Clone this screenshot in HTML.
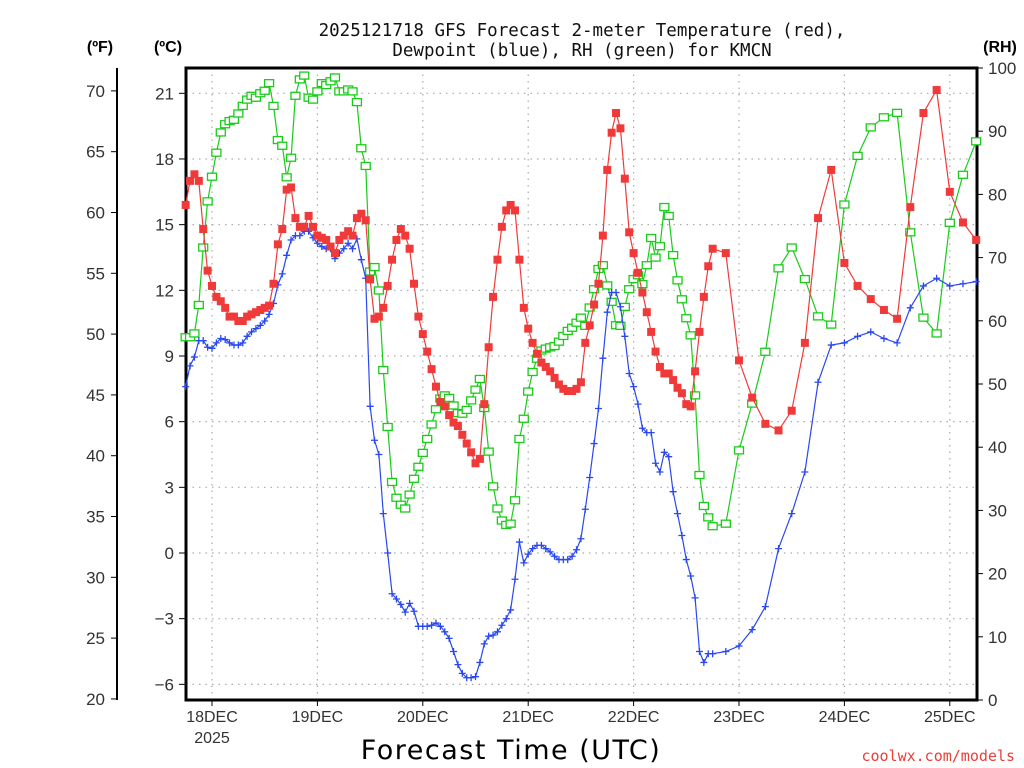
<!DOCTYPE html>
<html><head><meta charset="utf-8"><style>
html,body{margin:0;padding:0;background:#fff;}
svg{display:block;font-family:"Liberation Sans",sans-serif;}
</style></head><body>
<svg id="chart" width="1024" height="768" viewBox="0 0 1024 768" xmlns="http://www.w3.org/2000/svg">
<rect x="0" y="0" width="1024" height="768" fill="#fff"/>
<g id="grid"></g>
<g id="axes"></g>
<g id="series"></g>
<text x="582" y="36" text-anchor="middle" font-family="'DejaVu Sans Mono','Liberation Mono',monospace" font-size="17.5" fill="#111">2025121718 GFS Forecast 2-meter Temperature (red),</text>
<text x="582" y="56" text-anchor="middle" font-family="'DejaVu Sans Mono','Liberation Mono',monospace" font-size="17.5" fill="#111">Dewpoint (blue), RH (green) for KMCN</text>
<text x="100" y="52" text-anchor="middle" font-weight="bold" font-size="16" fill="#000">(ºF)</text>
<text x="168" y="52" text-anchor="middle" font-weight="bold" font-size="16" fill="#000">(ºC)</text>
<text x="1000" y="52" text-anchor="middle" font-weight="bold" font-size="16" fill="#000">(RH)</text>
<text x="511" y="759" text-anchor="middle" font-family="'DejaVu Sans','Liberation Sans',sans-serif" font-size="27" letter-spacing="1.5" fill="#000">Forecast Time (UTC)</text>
<text x="1015" y="761" text-anchor="end" font-family="'DejaVu Sans Mono','Liberation Mono',monospace" font-size="15" fill="#e8403a">coolwx.com/models</text>
</svg>
<script>
const tempC=[15.9,17.0,17.3,17.0,14.8,12.9,12.2,11.7,11.5,11.2,10.8,10.8,10.6,10.6,10.8,10.9,11.0,11.1,11.2,11.3,12.3,14.1,14.8,16.6,16.7,15.3,14.9,14.9,15.4,14.9,14.5,14.4,14.3,14.0,13.7,14.3,14.5,14.7,14.5,15.3,15.5,15.2,12.5,10.7,10.8,11.2,12.2,13.4,14.3,14.8,14.5,13.9,12.3,10.8,10.0,9.2,8.4,7.6,6.9,6.7,6.3,
5.96,5.8,5.4,5.0,4.6,4.1,4.3,6.8,9.4,11.7,13.4,14.9,15.65,15.9,15.65,13.4,11.2,10.25,9.6,9.1,8.7,8.5,8.3,8.0,7.7,7.5,7.4,7.4,7.5,7.8,9.6,10.4,11.35,12.3,14.5,17.5,19.2,20.1,19.4,17.1,14.65,13.7,12.8,11.9,11.0,10.1,9.2,8.5,8.2,8.2,7.9,7.55,7.3,6.8,6.7,8.3,10.1,11.7,13.1,13.9,
13.7,8.8,7.1,5.9,5.6,6.5,9.6,15.3,17.5,13.25,12.2,11.6,11.1,10.7,15.8,20.1,21.15,16.5,15.1,14.3];
const dewC=[7.6,8.55,8.95,9.7,9.7,9.4,9.35,9.6,9.8,9.75,9.6,9.5,9.5,9.6,9.9,10.1,10.25,10.4,10.6,10.9,11.4,12.25,12.75,13.6,14.3,14.5,14.5,14.7,14.7,14.4,14.15,14.0,13.9,13.9,13.45,13.7,13.9,14.15,13.9,14.35,13.4,12.55,6.7,5.15,4.5,1.8,0.0,-1.86,-2.1,-2.35,-2.7,-2.3,-2.66,-3.35,-3.35,-3.35,-3.3,-3.2,-3.35,-3.6,-3.9,
-4.5,-5.1,-5.5,-5.7,-5.7,-5.65,-5.0,-4.15,-3.8,-3.75,-3.6,-3.3,-3.0,-2.6,-1.2,0.5,-0.45,-0.05,0.2,0.35,0.35,0.2,0.05,-0.15,-0.3,-0.3,-0.3,-0.15,0.15,0.65,2.0,3.45,5.0,6.6,8.9,11.0,11.9,11.9,11.25,9.9,8.2,7.6,6.8,5.7,5.5,5.5,4.1,3.7,4.6,4.4,2.8,1.8,0.8,-0.3,-1.05,-2.05,-4.5,-5.0,-4.6,-4.6,
-4.5,-4.25,-3.5,-2.45,0.2,1.8,3.7,7.8,9.5,9.6,9.9,10.1,9.8,9.6,11.2,12.2,12.55,12.2,12.3,12.4];
const rhPct=[57.4,57.4,58.0,62.5,71.6,78.9,82.8,86.6,89.8,91.1,91.6,91.8,92.8,94.0,95.0,95.6,95.3,96.0,96.4,97.6,94.0,88.6,87.7,82.7,85.8,95.6,98.2,98.8,95.3,95.0,96.3,97.6,97.3,97.9,98.5,96.3,96.3,96.6,96.3,94.6,87.3,84.5,67.8,68.5,64.8,52.2,43.2,34.5,32.0,30.9,30.3,32.5,35.0,36.9,39.1,41.3,43.6,46.0,47.7,48.2,
47.8,46.6,45.4,45.3,45.9,47.4,49.1,50.8,46.2,39.3,33.8,30.3,28.4,27.7,27.9,31.6,41.3,44.5,48.8,51.9,54.0,55.3,55.6,55.8,56.0,56.7,57.6,58.4,58.9,59.7,60.5,59.2,62.1,65.0,68.2,68.8,65.6,63.0,59.3,59.2,62.2,65.0,66.6,67.2,65.8,68.8,73.1,70.0,71.8,78.0,76.6,70.4,66.4,63.4,60.4,57.7,48.2,35.6,30.7,28.9,27.5,
27.9,39.5,46.9,55.1,68.3,71.6,66.6,60.7,59.4,78.4,86.1,90.6,92.2,92.9,74.0,60.5,58.0,75.5,83.1,88.4];
const dayLabels=["18DEC","19DEC","20DEC","21DEC","22DEC","23DEC","24DEC","25DEC"];
const fTicks=[20,25,30,35,40,45,50,55,60,65,70];
const cTicks=[-6,-3,0,3,6,9,12,15,18,21];
const rhTicks=[0,10,20,30,40,50,60,70,80,90,100];

const hours=[];
for(let h=-6;h<=114;h++)hours.push(h);
for(let h=117;h<=174;h+=3)hours.push(h);

const L=186,R=977,T=68,B=700;
const xH=h=>212+h*105.4/24;
const yC=c=>553-c*65.67/3;
const yF=f=>yC((f-32)*5/9);
const yRH=r=>B-r*(B-T)/100;
const NS="http://www.w3.org/2000/svg";
function mk(tag,attrs,parent,txt){const e=document.createElementNS(NS,tag);for(const k in attrs)e.setAttribute(k,attrs[k]);if(txt!==undefined)e.textContent=txt;parent.appendChild(e);return e;}
const grid=document.getElementById('grid'),axes=document.getElementById('axes'),series=document.getElementById('series');

cTicks.forEach(c=>{
  const y=yC(c);
  const g=mk('line',{x1:L,x2:R,y1:y,y2:y,stroke:'#aaa','stroke-width':1.2,'stroke-dasharray':'1.5,5'},grid);
  
  
  const t=mk('line',{x1:L-7,x2:L,y1:y,y2:y,stroke:'#000','stroke-width':1},axes);
  
  
  const lb=mk('text',{x:L-12,y:y+6,'text-anchor':'end','font-size':17,fill:'#333'},axes,(c<0?'\u2212'+(-c):String(c)));
  
  
});
dayLabels.forEach((d,i)=>{
  const x=xH(i*24);
  const g=mk('line',{x1:x,x2:x,y1:T,y2:B,stroke:'#aaa','stroke-width':1.2,'stroke-dasharray':'1.5,5'},grid);
  
  
  const t=mk('line',{x1:x,x2:x,y1:B,y2:B+6,stroke:'#000','stroke-width':1},axes);
  
  
  const lb=mk('text',{x:x,y:B+22,'text-anchor':'middle','font-size':16,fill:'#333'},axes,d);
  
  
});
const yr=mk('text',{x:xH(0),y:B+43,'text-anchor':'middle','font-size':16,fill:'#333'},axes,'2025');



const fl=mk('line',{x1:117,x2:117,y1:T,y2:B,stroke:'#000','stroke-width':2},axes);


fTicks.forEach(f=>{
  const y=yF(f);
  const t=mk('line',{x1:111,x2:117,y1:y,y2:y,stroke:'#000','stroke-width':1},axes);
  
  
  const lb=mk('text',{x:105,y:y+6,'text-anchor':'end','font-size':17,fill:'#333'},axes,String(f));
  
  
});
rhTicks.forEach(r=>{
  const y=yRH(r);
  const t=mk('line',{x1:R,x2:R+6,y1:y,y2:y,stroke:'#000','stroke-width':1},axes);
  
  
  const lb=mk('text',{x:988,y:y+6,'text-anchor':'start','font-size':17,fill:'#333'},axes,String(r));
  
  
});
const frame=mk('rect',{x:L,y:T,width:R-L,height:B-T,fill:'none',stroke:'#000','stroke-width':3},axes);



function drawSeries(vals,yf,color,name,marker){
  const g=mk('g',{},series);
  
  
  const pts=vals.map((v,i)=>xH(hours[i]).toFixed(1)+','+yf(v).toFixed(1)).join(' ');
  const ln=mk('polyline',{points:pts,fill:'none',stroke:color,'stroke-width':1.2},g);
  
  
  vals.forEach((v,i)=>{
    const x=xH(hours[i]),y=yf(v);let m;
    if(marker==='filled'){m=mk('rect',{x:x-4,y:y-4,width:8,height:8,fill:color},g);}
    else if(marker==='open'){m=mk('rect',{x:x-4.5,y:y-3.5,width:9,height:7,fill:'#fff',stroke:color,'stroke-width':1.3},g);}
    else{m=mk('path',{d:`M${x-3.5},${y}H${x+3.5}M${x},${y-3.5}V${y+3.5}`,stroke:color,'stroke-width':1.3},g);}
    
    
  });
}
drawSeries(rhPct,yRH,'#19cc19','rh-series','open');
drawSeries(dewC,yC,'#2a48f0','dewpoint-series','plus');
drawSeries(tempC,yC,'#f03a3a','temperature-series','filled');
</script>
</body></html>
